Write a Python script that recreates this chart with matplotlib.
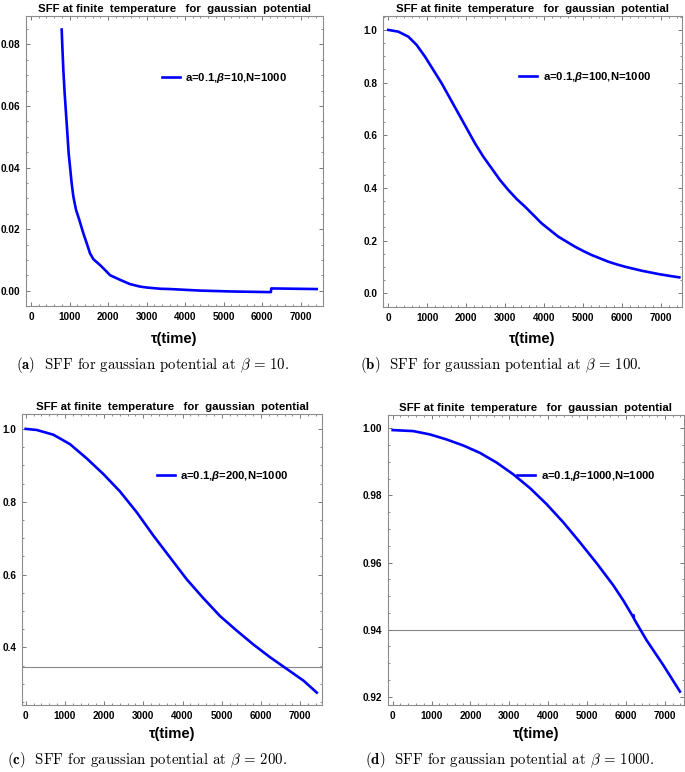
import numpy as np
import matplotlib
matplotlib.use('Agg')
import matplotlib.pyplot as plt
from matplotlib.ticker import MultipleLocator

plt.rcParams['font.family'] = 'Liberation Sans'
plt.rcParams['font.weight'] = 'bold'
plt.rcParams['mathtext.fontset'] = 'custom'
plt.rcParams['mathtext.it'] = 'Liberation Sans:italic:bold'
plt.rcParams['mathtext.rm'] = 'Liberation Sans:bold'
plt.rcParams['mathtext.bf'] = 'Liberation Sans:bold'

# Data
# (a) beta = 10
t_a = [797, 814, 840, 874, 909, 944, 978, 1013, 1056, 1100, 1169, 1255, 1359,
       1446, 1532, 1619, 1792, 1922, 2052, 2225, 2312, 2571, 2831, 3005, 3351,
       3610, 4390, 5250, 6230, 6240, 7420]
sff_a = [0.0848, 0.0792, 0.0716, 0.0641, 0.0576, 0.0511, 0.0446, 0.0403,
         0.0349, 0.0306, 0.0263, 0.0230, 0.0187, 0.0155, 0.0122, 0.0103,
         0.0084, 0.0068, 0.0051, 0.0041, 0.0036, 0.0022, 0.0014, 0.0011,
         0.0007, 0.0006, 0.0001, -0.0002, -0.0004, 0.0008, 0.0006]

# (b) beta = 100
t_b = [0, 257, 514, 728, 942, 1156, 1370, 1584, 1798, 2012, 2225, 2439, 2653,
       2867, 3081, 3295, 3509, 3723, 3936, 4150, 4364, 4578, 4792, 5006, 5220,
       5434, 5648, 5861, 6075, 6289, 6503, 6717, 6931, 7188, 7470]
sff_b = [1.0, 0.9935, 0.9745, 0.9429, 0.8986, 0.8480, 0.7973, 0.7404, 0.6834,
         0.6264, 0.5695, 0.5188, 0.4745, 0.4302, 0.3923, 0.3581, 0.3290,
         0.2974, 0.2657, 0.2404, 0.2151, 0.1961, 0.1771, 0.1606, 0.1454,
         0.1328, 0.1201, 0.1100, 0.1011, 0.0935, 0.0859, 0.0796, 0.0733,
         0.0670, 0.0606]

# (c) beta = 200
t_c = [0, 280, 705, 1130, 1555, 1980, 2406, 2831, 3256, 3681, 4106, 4531,
       4957, 5382, 5807, 6232, 6657, 7082, 7423]
sff_c = [1.0, 0.997, 0.984, 0.958, 0.919, 0.876, 0.828, 0.771, 0.707, 0.647,
         0.587, 0.535, 0.486, 0.446, 0.408, 0.373, 0.341, 0.309, 0.276]

# (d) beta = 1000
t_d = [0, 530, 959, 1387, 1816, 2244, 2673, 3101, 3530, 3958, 4386, 4815,
       5243, 5672, 5929, 6186, 6195, 6205, 6529, 6957, 7386]
sff_d = [0.9995, 0.9992, 0.9982, 0.9967, 0.9949, 0.9927, 0.9898, 0.9863,
         0.9822, 0.9774, 0.9720, 0.9660, 0.9598, 0.9532, 0.9487, 0.9437,
         0.9443, 0.9432, 0.9368, 0.9294, 0.9215]

betas = ['10', '100', '200', '1000']
title = 'SFF at finite  temperature   for  gaussian  potential'

W, H = 685., 772.
fig = plt.figure(figsize=(6.85, 7.72), dpi=100)


def px_axes(left, top, right, bottom):
    return fig.add_axes([left / W, 1 - bottom / H, (right - left) / W, (bottom - top) / H])


def style(ax, xlim, ylim, yticks, ylabels, yminor):
    ax.set_xlim(*xlim)
    ax.set_ylim(*ylim)
    ax.set_xticks(np.arange(0, 8000, 1000))
    ax.set_xticklabels([str(v) for v in range(0, 8000, 1000)])
    ax.set_yticks(yticks)
    ax.set_yticklabels(ylabels)
    ax.xaxis.set_minor_locator(MultipleLocator(200))
    ax.yaxis.set_minor_locator(MultipleLocator(yminor))
    for sp in ax.spines.values():
        sp.set_color('#8c8c8c')
        sp.set_linewidth(0.8)
    ax.tick_params(which='both', direction='in', top=True, right=True,
                   colors='#777777', labelcolor='black', labelsize=7.2, pad=4)
    ax.tick_params(which='major', length=3, width=0.7)
    ax.tick_params(which='minor', length=1.6, width=0.6)
    ax.set_title(title, fontsize=8.2, fontweight='bold', pad=3)


def add_legend(ax, x, y):
    ax.legend(loc='center left', bbox_to_anchor=(x, y), frameon=False,
              fontsize=8.1, handlelength=1.6, handletextpad=0.5,
              borderpad=0, borderaxespad=0)


# (a)
ax1 = px_axes(25.7, 16, 323, 306)
ax1.plot(t_a, sff_a, color='#0000ff', lw=1.9, label=r'a=0.1,$\beta$=10,N=1000')
style(ax1, (-138, 7584), (-0.0049, 0.0892), [0, 0.02, 0.04, 0.06, 0.08],
      ['0.00', '0.02', '0.04', '0.06', '0.08'], 0.005)
add_legend(ax1, 0.457, 0.786)

# (b)
ax2 = px_axes(383.3, 15.7, 681.7, 307.3)
ax2.plot(t_b, sff_b, color='#0000ff', lw=1.9, label=r'a=0.1,$\beta$=100,N=1000')
style(ax2, (-128, 7531), (-0.053, 1.054), [0, 0.2, 0.4, 0.6, 0.8, 1.0],
      ['0.0', '0.2', '0.4', '0.6', '0.8', '1.0'], 0.05)
add_legend(ax2, 0.455, 0.789)

# (c)
ax3 = px_axes(22, 414.3, 322.3, 705)
ax3.plot(t_c, sff_c, color='#0000ff', lw=1.9, label=r'a=0.1,$\beta$=200,N=1000')
ax3.axhline(0.345, color='#888888', lw=0.8, zorder=1)
style(ax3, (-94, 7563), (0.242, 1.040), [0.4, 0.6, 0.8, 1.0],
      ['0.4', '0.6', '0.8', '1.0'], 0.05)
add_legend(ax3, 0.449, 0.789)

# (d)
ax4 = px_axes(387.7, 415, 684, 705)
ax4.plot(t_d, sff_d, color='#0000ff', lw=1.9, label=r'a=0.1,$\beta$=1000,N=1000')
ax4.axhline(0.94, color='#888888', lw=0.8, zorder=1)
style(ax4, (-128, 7490), (0.9175, 1.004), [0.92, 0.94, 0.96, 0.98, 1.00],
      ['0.92', '0.94', '0.96', '0.98', '1.00'], 0.005)
add_legend(ax4, 0.437, 0.79)

# x labels
for cx, cy in [(174, 339), (532, 339), (172, 734), (536, 734)]:
    fig.text(cx / W, 1 - cy / H, 'τ(time)', ha='center', va='center', fontsize=10.6)

# captions
caps = [(16, 365, 'a'), (360, 365, 'b'), (7, 760, 'c'), (365, 760, 'd')]
for (x, y, k), b in zip(caps, betas):
    fig.text(x / W, 1 - y / H,
             r'$\mathbf{(' + k + r')}$  SFF for gaussian potential at $\beta\,=\,' + b + r'$.',
             ha='left', va='center', family='cmr10', math_fontfamily='cm',
             fontweight='normal', fontsize=10.7)

fig.savefig('out.png', dpi=100)
